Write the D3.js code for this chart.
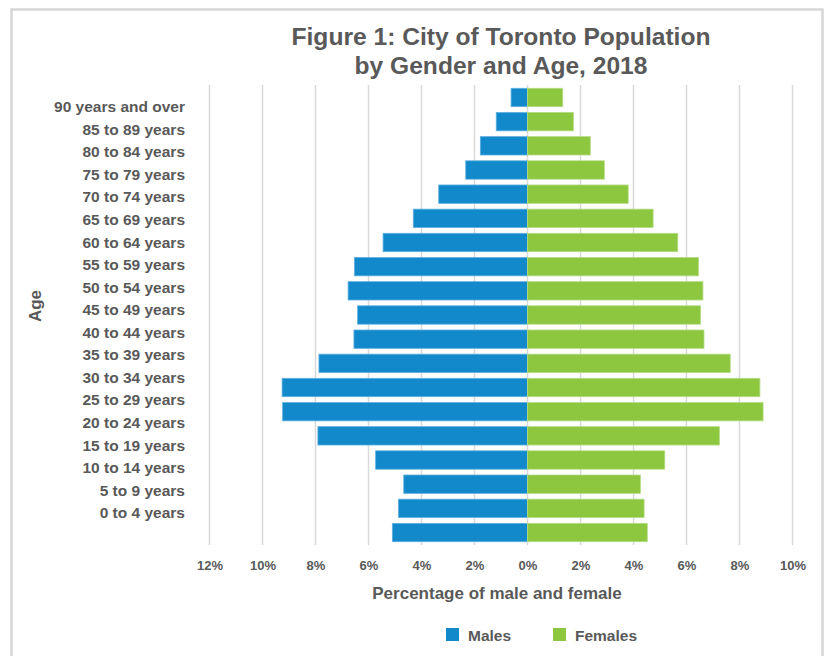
<!DOCTYPE html>
<html>
<head>
<meta charset="utf-8">
<script src="https://cdn.jsdelivr.net/npm/d3@7"></script>
<style>
  html, body { margin: 0; padding: 0; background: #fff; }
  svg { display: block; font-family: "Liberation Sans", Arial, Helvetica, sans-serif; }
</style>
</head>
<body>
<svg id="chart" width="824" height="656"></svg>
<script>
const categories = ["90 years and over","85 to 89 years","80 to 84 years","75 to 79 years","70 to 74 years","65 to 69 years","60 to 64 years","55 to 59 years","50 to 54 years","45 to 49 years","40 to 44 years","35 to 39 years","30 to 34 years","25 to 29 years","20 to 24 years","15 to 19 years","10 to 14 years","5 to 9 years","0 to 4 years"];
const males   = [0.62,1.18,1.78,2.33,3.35,4.31,5.45,6.53,6.77,6.41,6.55,7.87,9.26,9.24,7.91,5.73,4.67,4.87,5.10];
const females = [1.33,1.73,2.37,2.90,3.80,4.74,5.67,6.45,6.62,6.53,6.66,7.65,8.77,8.89,7.24,5.18,4.26,4.40,4.52];
const xTicks = [-12,-10,-8,-6,-4,-2,0,2,4,6,8,10];
const seriesNames = ["Males","Females"];
const colors = ["#1289cb","#8dc63f"];
const titleLines = ["Figure 1: City of Toronto Population","by Gender and Age, 2018"];
const xTitle = "Percentage of male and female";
const yTitle = "Age";

const svg = d3.select("#chart");
const textColor = "#595959";

// outer frame
svg.append("rect").attr("x",11.5).attr("y",9.5).attr("width",811).attr("height",680)
  .attr("fill","none").attr("stroke","#d6d6d6").attr("stroke-width",2.5);

const x = d3.scaleLinear().domain([-12,10]).range([209.5,792.5]);
const y = d3.scaleBand().domain(categories).range([85.4,544.6]).paddingInner(0.24).paddingOuter(0.12);
const yLab = d3.scalePoint().domain(categories).range([106.7,512.7]);

// gridlines
svg.append("g").selectAll("line").data(xTicks).join("line")
  .attr("x1",d=>x(d)).attr("x2",d=>x(d)).attr("y1",85).attr("y2",545)
  .attr("stroke","#d9d9d9").attr("stroke-width",1.5);

// bars
const rows = categories.map((c,i)=>({c, m: males[i], f: females[i]}));
svg.append("g").selectAll("rect").data(rows).join("rect")
  .attr("x",d=>x(-d.m)).attr("width",d=>x(0)-x(-d.m))
  .attr("y",d=>y(d.c)).attr("height",y.bandwidth())
  .attr("fill",colors[0]).attr("stroke","#5fb0e0").attr("stroke-width",0.8);
svg.append("g").selectAll("rect").data(rows).join("rect")
  .attr("x",x(0)).attr("width",d=>x(d.f)-x(0))
  .attr("y",d=>y(d.c)).attr("height",y.bandwidth())
  .attr("fill",colors[1]).attr("stroke","#b4dc82").attr("stroke-width",0.8);

// x axis labels
const xAxis = d3.axisBottom(x).tickValues(xTicks).tickSize(0).tickPadding(0)
  .tickFormat(d=>Math.abs(d)+"%");
const gx = svg.append("g").attr("transform","translate(0,561)").call(xAxis);
gx.select(".domain").remove();
gx.selectAll("text").attr("fill",textColor).style("font-size","13px").style("font-weight","bold")
  .attr("font-family","Liberation Sans, Arial, sans-serif");

// y axis labels
const yAxis = d3.axisLeft(yLab).tickSize(0).tickPadding(0);
const gy = svg.append("g").attr("transform","translate(185,0)").call(yAxis);
gy.select(".domain").remove();
gy.selectAll("text").attr("fill",textColor).style("font-size","15.5px").style("font-weight","bold")
  .attr("font-family","Liberation Sans, Arial, sans-serif");

// title
svg.append("g").selectAll("text").data(titleLines).join("text")
  .attr("x",501).attr("y",(d,i)=>45+i*29).attr("text-anchor","middle")
  .attr("fill",textColor).style("font-size","24.6px").style("font-weight","bold").text(d=>d);

// axis titles
svg.append("text").attr("x",497).attr("y",599).attr("text-anchor","middle")
  .attr("fill",textColor).style("font-size","17px").style("font-weight","bold").text(xTitle);
svg.append("text").attr("transform","translate(41,306) rotate(-90)").attr("text-anchor","middle")
  .attr("fill",textColor).style("font-size","17px").style("font-weight","bold").text(yTitle);

// legend
const legX = [446,553];
const lg = svg.append("g").selectAll("g").data(seriesNames).join("g")
  .attr("transform",(d,i)=>`translate(${legX[i]},628)`);
lg.append("rect").attr("width",13).attr("height",13).attr("fill",(d,i)=>colors[i]);
lg.append("text").attr("x",22).attr("y",12.5).attr("fill",textColor)
  .style("font-size","15.5px").style("font-weight","bold").text(d=>d);
</script>
</body>
</html>
